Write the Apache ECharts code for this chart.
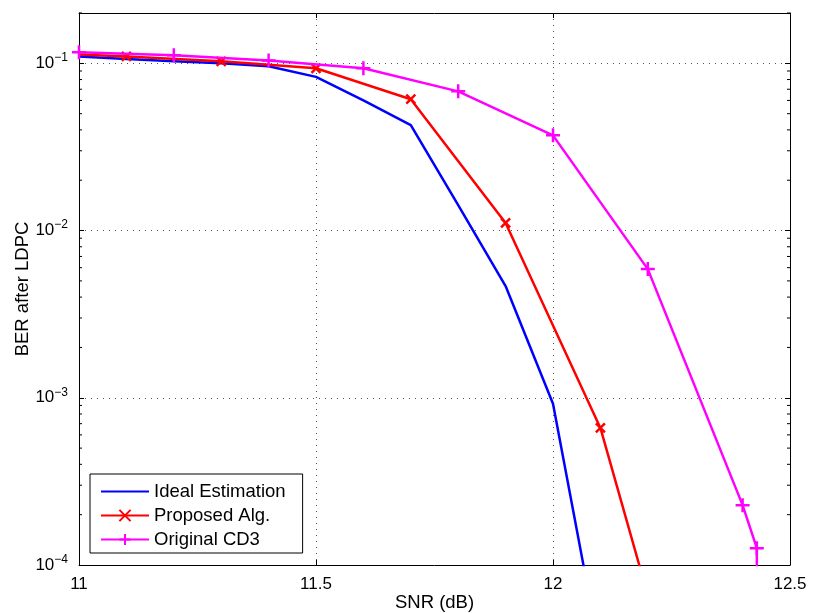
<!DOCTYPE html>
<html>
<head>
<meta charset="utf-8">
<script src="https://cdn.jsdelivr.net/npm/echarts@6/dist/echarts.min.js"></script>
<style>
  html, body { margin: 0; padding: 0; background: #fff; }
  #chart { width: 813px; height: 613px; }
</style>
</head>
<body>
<div id="chart"></div>
<script>
// BER after LDPC decoding versus SNR for three estimation schemes
const snrIdeal = [11.0, 11.1, 11.2, 11.3, 11.4, 11.5, 11.6, 11.7, 11.8, 11.9, 12.0, 12.1];
const berIdeal = [0.110, 0.106, 0.103, 0.100, 0.096, 0.083, 0.060, 0.0427, 0.0142, 0.00466, 0.00092, 0.000029];

const snrProposed = [11.0, 11.1, 11.3, 11.5, 11.7, 11.9, 12.1, 12.3];
const berProposed = [0.113, 0.110, 0.1028, 0.0934, 0.0610, 0.0111, 0.00066, 0.0000066];

const snrOriginal = [11.0, 11.2, 11.4, 11.6, 11.8, 12.0, 12.2, 12.4, 12.43, 12.43];
const berOriginal = [0.1163, 0.1116, 0.104, 0.0934, 0.068, 0.0371, 0.00588, 0.000228, 0.000126, 0.00001];

const seriesNames = ['Ideal Estimation', 'Proposed Alg.', 'Original CD3'];

const yMin = 1e-4, yMax = 0.2;
// minor ticks of the log axis (2..9 within each decade)
const minorTickValues = [];
for (let e = -4; e <= -1; e++) {
  for (let m = 2; m <= 9; m++) {
    const v = m * Math.pow(10, e);
    if (v <= yMax + 1e-12) minorTickValues.push(v);
  }
}

const pairs = (xs, ys) => xs.map((x, i) => [x, ys[i]]);

const crossPath = 'path://M0,0L10,10M10,0L0,10';
const plusPath = 'path://M5,0L5,10M0,5L10,5';

const font = 'Liberation Sans, Arial, Helvetica, sans-serif';
const labelSize = 17;
const nameSize = 18.5;

function yLabel(v) {
  const lg = Math.log10(v);
  const e = Math.round(lg);
  if (Math.abs(lg - e) > 1e-6) return '';
  return '{b|10}{s|' + (e < 0 ? '\u2212' + (-e) : e) + '}';
}

const chart = echarts.init(document.getElementById('chart'), null, { renderer: 'canvas' });

const proposedData = pairs(snrProposed, berProposed).map((p, i) =>
  i === 0 ? { value: p, symbol: 'none' } : p);

chart.setOption({
  animation: false,
  backgroundColor: '#fff',
  textStyle: { fontFamily: font },
  grid: { left: 79, right: 23, top: 13, bottom: 48, containLabel: false, outerBoundsMode: 'none' },
  legend: {
    data: [
      { name: seriesNames[0], itemStyle: { opacity: 0 } },
      { name: seriesNames[1] },
      { name: seriesNames[2] }
    ],
    orient: 'vertical',
    left: 90,
    top: 474,
    backgroundColor: '#fff',
    borderColor: '#000',
    borderWidth: 1,
    borderRadius: 0,
    padding: [8, 17, 4, 10],
    itemWidth: 48,
    itemHeight: 14,
    itemGap: 5,
    textStyle: { fontFamily: font, fontSize: nameSize, color: '#000' }
  },
  xAxis: [
    {
      type: 'value', min: 11, max: 12.5, interval: 0.5,
      name: 'SNR (dB)', nameLocation: 'middle', nameGap: 28, nameMoveOverlap: false,
      nameTextStyle: { fontFamily: font, fontSize: nameSize, color: '#000' },
      axisLine: { show: true, lineStyle: { color: '#000', width: 1 } },
      axisTick: { show: true, inside: true, length: 5, lineStyle: { color: '#000' } },
      axisLabel: { fontFamily: font, fontSize: labelSize, color: '#000', margin: 11,
        formatter: v => String(v) },
      splitLine: { show: true, lineStyle: { color: '#555', type: [1, 5], width: 1 } }
    },
    {
      type: 'value', min: 11, max: 12.5, interval: 0.5, position: 'top',
      axisLine: { show: true, onZero: false, lineStyle: { color: '#000', width: 1 } },
      axisTick: { show: true, inside: true, length: 5, lineStyle: { color: '#000' } },
      axisLabel: { show: false },
      splitLine: { show: false }
    }
  ],
  yAxis: [
    {
      type: 'log', logBase: 10, min: yMin, max: yMax, interval: 1,
      name: 'BER after LDPC', nameLocation: 'middle', nameGap: 47, nameMoveOverlap: false,
      nameTextStyle: { fontFamily: font, fontSize: nameSize, color: '#000' },
      axisLine: { show: true, onZero: false, lineStyle: { color: '#000', width: 1 } },
      axisTick: { show: true, inside: true, length: 5, lineStyle: { color: '#000' } },
      axisLabel: {
        fontFamily: font, color: '#000', margin: 11,
        formatter: yLabel,
        rich: {
          b: { fontFamily: font, fontSize: labelSize, color: '#000' },
          s: { fontFamily: font, fontSize: 12, color: '#000', padding: [0, 0, 11, 0] }
        }
      },
      splitLine: { show: true, lineStyle: { color: '#555', type: [1, 5], width: 1 } }
    },
    {
      type: 'log', logBase: 10, min: yMin, max: yMax, interval: 1, position: 'right',
      axisLine: { show: true, onZero: false, lineStyle: { color: '#000', width: 1 } },
      axisTick: { show: true, inside: true, length: 5, lineStyle: { color: '#000' } },
      axisLabel: { show: false },
      splitLine: { show: false }
    }
  ],
  series: [
    {
      // log-scale minor ticks on both vertical edges
      type: 'custom',
      silent: true,
      clip: false,
      xAxisIndex: 0, yAxisIndex: 0,
      data: minorTickValues.map(v => [11, v]),
      renderItem: function (params, api) {
        const leftPt = api.coord([11, api.value(1)]);
        const rightPt = api.coord([12.5, api.value(1)]);
        const style = { stroke: '#000', lineWidth: 1 };
        return {
          type: 'group',
          children: [
            { type: 'line', shape: { x1: leftPt[0], y1: leftPt[1], x2: leftPt[0] + 3, y2: leftPt[1] }, style },
            { type: 'line', shape: { x1: rightPt[0], y1: rightPt[1], x2: rightPt[0] - 3, y2: rightPt[1] }, style }
          ]
        };
      },
      z: 1
    },
    {
      name: seriesNames[0],
      type: 'line',
      data: pairs(snrIdeal, berIdeal),
      showSymbol: false,
      symbol: 'none',
      clip: true,
      lineStyle: { color: '#0000ff', width: 2.5 },
      itemStyle: { color: '#0000ff' },
      z: 3
    },
    {
      name: seriesNames[1],
      type: 'line',
      data: proposedData,
      symbol: crossPath,
      symbolSize: 9,
      clip: true,
      lineStyle: { color: '#ff0000', width: 2.5 },
      itemStyle: { color: '#ff0000', borderColor: '#ff0000', borderWidth: 2.5 },
      z: 4
    },
    {
      name: seriesNames[2],
      type: 'line',
      data: pairs(snrOriginal, berOriginal),
      symbol: plusPath,
      symbolSize: 14,
      clip: true,
      lineStyle: { color: '#ff00ff', width: 2.5 },
      itemStyle: { color: '#ff00ff', borderColor: '#ff00ff', borderWidth: 2.5 },
      z: 5
    }
  ]
});
</script>
</body>
</html>
